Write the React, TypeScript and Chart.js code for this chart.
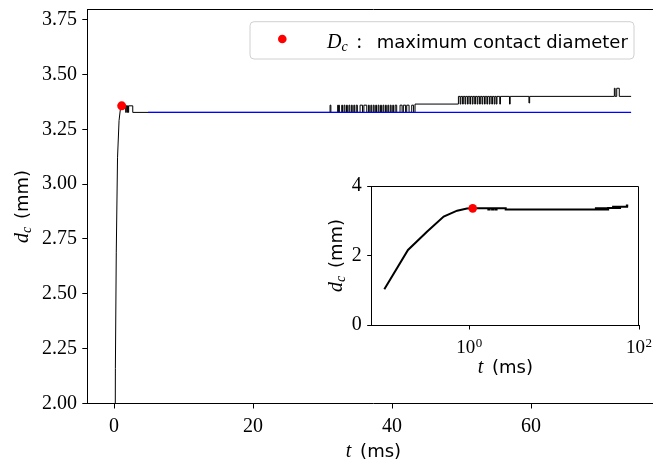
import React, { useEffect, useRef } from "react";
import { Chart, registerables } from "chart.js";

Chart.register(...registerables);

const SERIF = '"Liberation Serif", "DejaVu Serif", serif';
const SANS = '"DejaVu Sans", "Liberation Sans", sans-serif';

// initial spreading (t in ms, d_c in mm)
const riseTime = [0.1, 0.19, 0.32, 0.5, 0.72, 0.94, 1.1];
const riseDiam = [1.03, 2.16, 2.69, 3.12, 3.29, 3.35, 3.357];

// plateau: step changes (value holds until next time)
const plateauTime = [
  1.1, 1.68, 1.74, 1.86, 1.92, 2.04, 2.1, 2.69,
  31.08, 31.2,
  32.18, 32.26, 32.34, 32.42,
  32.76, 32.88, 33.1, 33.22, 33.45, 33.57, 33.8, 33.92, 34.15, 34.27, 34.5, 34.62, 34.85, 35.01,
  35.4, 35.75, 35.95, 36.36,
  36.6, 36.72, 36.95, 37.07, 37.3, 37.42, 37.65, 37.77, 38.0, 38.12, 38.35, 38.47,
  38.7, 38.82, 39.05, 39.17, 39.4, 39.52, 39.75, 39.87, 40.1, 40.22, 40.45, 40.67,
  41.15, 41.45, 41.63, 41.95, 42.11, 42.45, 42.83, 43.1,
  43.31,
  49.55,
  49.8, 49.9, 50.15, 50.25, 50.5, 50.6, 50.85, 50.95, 51.2, 51.3, 51.55, 51.65, 51.9, 52.0, 52.25, 52.35,
  52.6, 52.7, 52.95, 53.05, 53.3, 53.4, 53.65, 53.75, 54.0, 54.1, 54.35, 54.45, 54.7, 54.8, 55.0, 55.1,
  55.5, 55.6, 56.9, 57.0, 59.7, 59.8,
  71.99, 72.1, 72.33, 72.7,
  74.4,
];
const plateauDiam = [
  3.357, 3.327, 3.357, 3.327, 3.357, 3.327, 3.357, 3.327,
  3.36, 3.327,
  3.36, 3.327, 3.36, 3.327,
  3.36, 3.327, 3.36, 3.327, 3.36, 3.327, 3.36, 3.327, 3.36, 3.327, 3.36, 3.327, 3.36, 3.327,
  3.36, 3.327, 3.36, 3.327,
  3.36, 3.327, 3.36, 3.327, 3.36, 3.327, 3.36, 3.327, 3.36, 3.327, 3.36, 3.327,
  3.36, 3.327, 3.36, 3.327, 3.36, 3.327, 3.36, 3.327, 3.36, 3.327, 3.36, 3.327,
  3.36, 3.327, 3.36, 3.327, 3.36, 3.327, 3.36, 3.327,
  3.365,
  3.4,
  3.365, 3.4, 3.365, 3.4, 3.365, 3.4, 3.365, 3.4, 3.365, 3.4, 3.365, 3.4, 3.365, 3.4, 3.365, 3.4,
  3.365, 3.4, 3.365, 3.4, 3.365, 3.4, 3.365, 3.4, 3.365, 3.4, 3.365, 3.4, 3.365, 3.4, 3.365, 3.4,
  3.365, 3.4, 3.365, 3.4, 3.37, 3.4,
  3.437, 3.4, 3.437, 3.4,
  3.4,
];

// mean plateau diameter (blue)
const meanTime = [4.9, 74.4];
const meanDiam = [3.327, 3.327];

// maximum contact diameter (red dot)
const maxTime = [1.1];
const maxDiam = [3.357];

const mainXTicks = [0, 20, 40, 60];
const mainYTicks = [2.0, 2.25, 2.5, 2.75, 3.0, 3.25, 3.5, 3.75];
const insetXTicks = [1, 100];
const insetYTicks = [0, 2, 4];

const legendLabel = "maximum contact diameter";

type Piece = { text: string; font: string; dy?: number; gap?: number };

function drawPieces(ctx: CanvasRenderingContext2D, pieces: Piece[], x: number, y: number, center: boolean) {
  let total = 0;
  const widths = pieces.map((p) => {
    ctx.font = p.font;
    const w = ctx.measureText(p.text).width + (p.gap || 0);
    total += w;
    return w;
  });
  let cx = center ? x - total / 2 : x;
  ctx.textAlign = "left";
  ctx.textBaseline = "alphabetic";
  ctx.fillStyle = "#000";
  pieces.forEach((p, i) => {
    ctx.font = p.font;
    ctx.fillText(p.text, cx, y + (p.dy || 0));
    cx += widths[i];
  });
}

const pts = (xs: number[], ys: number[]) => xs.map((x, i) => ({ x, y: ys[i] }));

const xTitle: Piece[] = [
  { text: "t", font: `italic 20px ${SERIF}`, gap: 3 },
  { text: " (ms)", font: `18px ${SANS}` },
];
const yTitle: Piece[] = [
  { text: "d", font: `italic 20px ${SERIF}` },
  { text: "c", font: `italic 14px ${SERIF}`, dy: 3, gap: 2 },
  { text: " (mm)", font: `18px ${SANS}` },
];

export default function App() {
  const mainRef = useRef<HTMLCanvasElement>(null);
  const insetRef = useRef<HTMLCanvasElement>(null);

  useEffect(() => {
    const risePts = pts(riseTime, riseDiam);
    const platPts = pts(plateauTime, plateauDiam);
    const meanPts = pts(meanTime, meanDiam);
    const maxPts = pts(maxTime, maxDiam);

    const axisCommon = (tickLen: number) => ({
      grid: { display: true, drawOnChartArea: false, drawTicks: true, tickLength: tickLen, color: "#000", lineWidth: 1 },
      border: { display: true, color: "#000", width: 1 },
    });

    const mainDeco = {
      id: "mainDeco",
      afterDraw(chart: any) {
        const ctx: CanvasRenderingContext2D = chart.ctx;
        const a = chart.chartArea;
        ctx.save();
        ctx.strokeStyle = "#000";
        ctx.lineWidth = 1;
        ctx.beginPath();
        ctx.moveTo(a.left, Math.round(a.top) + 0.5);
        ctx.lineTo(a.right, Math.round(a.top) + 0.5);
        ctx.lineTo(a.right, a.bottom);
        ctx.stroke();

        // legend
        const lx = 250, ly = 21.7, lw = 384, lh = 37.3, r = 4;
        ctx.beginPath();
        ctx.moveTo(lx + r, ly);
        ctx.lineTo(lx + lw - r, ly);
        ctx.arcTo(lx + lw, ly, lx + lw, ly + r, r);
        ctx.lineTo(lx + lw, ly + lh - r);
        ctx.arcTo(lx + lw, ly + lh, lx + lw - r, ly + lh, r);
        ctx.lineTo(lx + r, ly + lh);
        ctx.arcTo(lx, ly + lh, lx, ly + lh - r, r);
        ctx.lineTo(lx, ly + r);
        ctx.arcTo(lx, ly, lx + r, ly, r);
        ctx.closePath();
        ctx.fillStyle = "rgba(255,255,255,0.8)";
        ctx.fill();
        ctx.strokeStyle = "#d0d0d0";
        ctx.stroke();
        ctx.beginPath();
        ctx.arc(282.3, 39, 4.3, 0, Math.PI * 2);
        ctx.fillStyle = "#ff0000";
        ctx.fill();
        drawPieces(ctx, [
          { text: "D", font: `italic 20px ${SERIF}` },
          { text: "c", font: `italic 14px ${SERIF}`, dy: 3 },
        ], 327, 48.3, false);
        drawPieces(ctx, [{ text: ":", font: `20px ${SERIF}` }], 356.5, 48.3, false);
        drawPieces(ctx, [{ text: legendLabel, font: `18px ${SANS}` }], 376.7, 48.3, false);

        // titles
        drawPieces(ctx, xTitle, (a.left + a.right) / 2, 457, true);
        ctx.save();
        ctx.translate(28, (a.top + a.bottom) / 2);
        ctx.rotate(-Math.PI / 2);
        drawPieces(ctx, yTitle, 0, 0, true);
        ctx.restore();
        ctx.restore();
      },
    };

    const main = new Chart(mainRef.current as HTMLCanvasElement, {
      type: "line",
      data: {
        datasets: [
          { label: "Dc", data: maxPts, showLine: false, pointRadius: 4.5, pointHoverRadius: 4.5, pointBackgroundColor: "#ff0000", pointBorderWidth: 0, borderColor: "#ff0000" },
          { label: "mean", data: meanPts, borderColor: "#0000ff", borderWidth: 1.3, pointRadius: 0 },
          { label: "plateau", data: platPts, borderColor: "#000", borderWidth: 1, pointRadius: 0, stepped: "before" },
          { label: "rise", data: risePts, borderColor: "#000", borderWidth: 1, pointRadius: 0, tension: 0 },
        ],
      },
      options: {
        responsive: false,
        animation: false,
        events: [],
        layout: { padding: { left: 0, top: 9.3, right: 20.4, bottom: 0 } },
        plugins: { legend: { display: false }, tooltip: { enabled: false } },
        scales: {
          x: {
            type: "linear",
            min: -3.85,
            max: 78.5,
            afterBuildTicks: (s: any) => { s.ticks = mainXTicks.map((v) => ({ value: v })); },
            afterFit: (s: any) => { s.height = 58.5; s.paddingLeft = 0; s.paddingRight = 0; },
            ticks: { font: { family: SERIF, size: 20 }, color: "#000", padding: 5.8, maxRotation: 0, autoSkip: false, callback: (v: any) => String(v) },
            ...axisCommon(5),
          },
          y: {
            type: "linear",
            min: 2.0,
            max: 3.797,
            afterBuildTicks: (s: any) => { s.ticks = mainYTicks.map((v) => ({ value: v })); },
            afterFit: (s: any) => { s.width = 87.3; s.paddingTop = 0; s.paddingBottom = 0; },
            ticks: { font: { family: SERIF, size: 20 }, color: "#000", padding: 5.3, autoSkip: false, callback: (v: any) => Number(v).toFixed(2) },
            ...axisCommon(5),
          },
        },
      } as any,
      plugins: [mainDeco],
    });

    const insetDeco = {
      id: "insetDeco",
      beforeDraw(chart: any) {
        const ctx: CanvasRenderingContext2D = chart.ctx;
        const a = chart.chartArea;
        ctx.save();
        ctx.fillStyle = "#fff";
        ctx.fillRect(a.left, a.top, a.right - a.left, a.bottom - a.top);
        ctx.restore();
      },
      afterDraw(chart: any) {
        const ctx: CanvasRenderingContext2D = chart.ctx;
        const a = chart.chartArea;
        ctx.save();
        ctx.strokeStyle = "#000";
        ctx.lineWidth = 1;
        ctx.beginPath();
        ctx.moveTo(a.left, Math.round(a.top) + 0.5);
        ctx.lineTo(Math.round(a.right) - 0.5, Math.round(a.top) + 0.5);
        ctx.lineTo(Math.round(a.right) - 0.5, a.bottom);
        ctx.stroke();
        const xs = chart.scales.x;
        insetXTicks.forEach((v) => {
          const px = xs.getPixelForValue(v);
          const e = Math.round(Math.log10(v));
          drawPieces(ctx, [
            { text: "10", font: `19px ${SERIF}`, gap: 0.5 },
            { text: String(e), font: `13px ${SERIF}`, dy: -6.6 },
          ], px, 193.3, true);
        });
        drawPieces(ctx, xTitle, (a.left + a.right) / 2, 213, true);
        ctx.save();
        ctx.translate(42, (a.top + a.bottom) / 2);
        ctx.rotate(-Math.PI / 2);
        drawPieces(ctx, yTitle, 0, 0, true);
        ctx.restore();
        ctx.restore();
      },
    };

    const inset = new Chart(insetRef.current as HTMLCanvasElement, {
      type: "line",
      data: {
        datasets: [
          { label: "Dc", data: maxPts, showLine: false, pointRadius: 4.3, pointHoverRadius: 4.3, pointBackgroundColor: "#ff0000", pointBorderWidth: 0, borderColor: "#ff0000" },
          { label: "plateau", data: platPts, borderColor: "#000", borderWidth: 2, pointRadius: 0, stepped: "before" },
          { label: "rise", data: risePts, borderColor: "#000", borderWidth: 2, pointRadius: 0, tension: 0 },
        ],
      },
      options: {
        responsive: false,
        animation: false,
        events: [],
        layout: { padding: { left: 0, top: 26, right: 14, bottom: 0 } },
        plugins: { legend: { display: false }, tooltip: { enabled: false } },
        scales: {
          x: {
            type: "logarithmic",
            min: 0.071,
            max: 100,
            afterBuildTicks: (s: any) => { s.ticks = insetXTicks.map((v) => ({ value: v })); },
            afterFit: (s: any) => { s.height = 65; s.paddingLeft = 0; s.paddingRight = 0; },
            ticks: { display: false },
            ...axisCommon(4.5),
          },
          y: {
            type: "linear",
            min: 0,
            max: 4,
            afterBuildTicks: (s: any) => { s.ticks = insetYTicks.map((v) => ({ value: v })); },
            afterFit: (s: any) => { s.width = 71.7; s.paddingTop = 0; s.paddingBottom = 0; },
            ticks: { font: { family: SERIF, size: 20 }, color: "#000", padding: 5.5, autoSkip: false, callback: (v: any) => String(v) },
            ...axisCommon(4.5),
          },
        },
      } as any,
      plugins: [insetDeco],
    });

    return () => {
      main.destroy();
      inset.destroy();
    };
  }, []);

  return (
    <div style={{ position: "fixed", left: 0, top: 0, width: 653, height: 462, overflow: "hidden", background: "#fff" }}>
      <canvas ref={mainRef} width={680} height={462} style={{ position: "absolute", left: 0, top: 0, width: 680, height: 462 }} />
      <canvas ref={insetRef} width={353} height={230} style={{ position: "absolute", left: 300, top: 160, width: 353, height: 230 }} />
    </div>
  );
}
